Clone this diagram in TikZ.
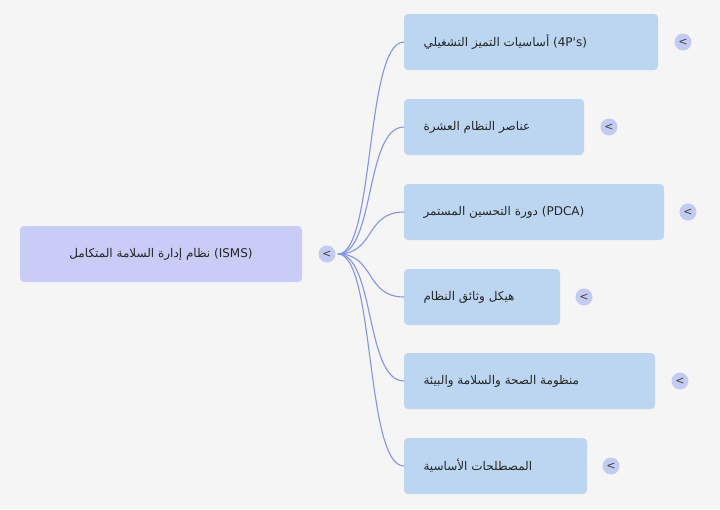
\documentclass[tikz,border=0pt]{standalone}
\usepackage{fontspec}
\setmainfont{DejaVu Sans}
\newfontfamily\arabicfont[Script=Arabic]{DejaVu Sans}
\TeXXeTstate=1
\definecolor{bg}{HTML}{F5F5F5}
\definecolor{rootc}{HTML}{C9CCF7}
\definecolor{kid}{HTML}{BCD6F2}
\definecolor{tog}{HTML}{C3CBF2}
\definecolor{edge}{HTML}{8494E8}
\begin{document}
\begin{tikzpicture}[x=1pt,y=-1pt,
  box/.style={rounded corners=4pt,inner sep=0pt},
  lbl/.style={font=\arabicfont\fontsize{12}{14}\selectfont,text=black!85},
  tg/.style={circle,fill=tog,minimum size=17pt,inner sep=0pt,font=\fontsize{11}{12}\selectfont,text=black!75},
  conn/.style={draw=edge,line width=1.1pt}]
\fill[bg] (0,0) rectangle (720,509);
\useasboundingbox (0,0) rectangle (720,509);
\fill[rootc,box] (20,226) rectangle (302,282);
\node[lbl] (root) at (161,254) {\beginR\beginL(ISMS)\endL{} نظام إدارة السلامة المتكامل\endR};
\node[tg] (rt) at (327,254) {<};
\coordinate (src) at (338,254);
\foreach \i/\r/\yc/\cx/\t in {
 1/658/42/683/{\beginR\beginL(4P's)\endL{} أساسيات التميز التشغيلي\endR},
 2/584/127/609/{\beginR عناصر النظام العشرة\endR},
 3/664/212/688/{\beginR\beginL(PDCA)\endL{} دورة التحسين المستمر\endR},
 4/560/297/584/{\beginR هيكل وثائق النظام\endR},
 5/655/381/680/{\beginR منظومة الصحة والسلامة والبيئة\endR},
 6/587/466/611/{\beginR المصطلحات الأساسية\endR}} {
  \fill[kid,box] (404,\yc-28) rectangle (\r,\yc+28);
  \node[lbl,anchor=west] (k\i) at (420,\yc) {\t};
  \node[tg] (t\i) at (\cx,\yc) {<};
  \coordinate (e\i) at (404,\yc);
  \draw[conn] (src) .. controls (375,254) and (365,\yc) .. (e\i);
}
\end{tikzpicture}
\end{document}
